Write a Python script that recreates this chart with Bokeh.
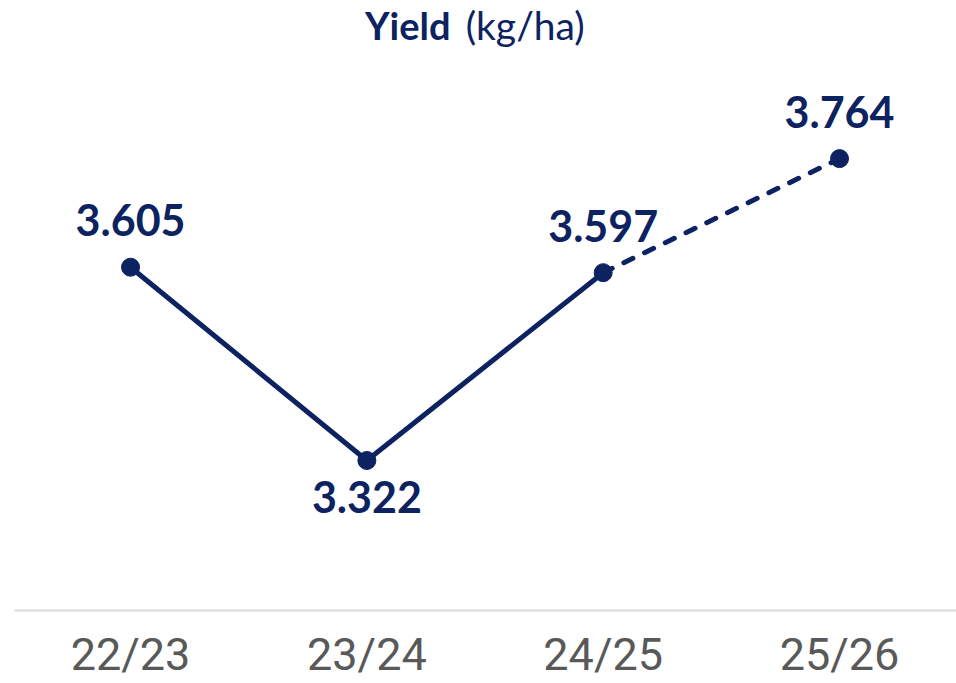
from bokeh.plotting import figure
from bokeh.models import FixedTicker, Label, Range1d
from bokeh.embed import file_html
from bokeh.resources import INLINE

seasons = ["22/23", "23/24", "24/25", "25/26"]
yields = [3.605, 3.322, 3.597, 3.764]
label_pos = ["above", "below", "above", "above"]

NAVY = "#0c2261"
GRAY = "#595959"

xs = list(range(len(seasons)))
p = figure(width=956, height=683, output_backend="svg", toolbar_location=None,
           x_range=Range1d(-0.491, 3.495), y_range=Range1d(3.1024, 3.9955),
           min_border_left=14, min_border_right=0, min_border_top=0, min_border_bottom=73)
p.outline_line_color = None
p.grid.visible = False
p.yaxis.visible = False
p.background_fill_color = "white"

# solid actual line, dashed forecast line
p.line(xs[:3], yields[:3], line_color=NAVY, line_width=5, line_cap="round", line_join="round")
p.line(xs[2:], yields[2:], line_color=NAVY, line_width=5, line_dash="10 13", line_cap="round")
p.scatter(xs, yields, size=18, fill_color=NAVY, line_color=NAVY)

for x, v, pos in zip(xs, yields, label_pos):
    if pos == "above":
        lab = Label(x=x, y=v, text=f"{v:.3f}", text_align="center", text_baseline="bottom",
                    y_offset=31, text_font="Lato", text_font_style="bold",
                    text_font_size="43px", text_color=NAVY)
    else:
        lab = Label(x=x, y=v, text=f"{v:.3f}", text_align="center", text_baseline="top",
                    y_offset=-20, text_font="Lato", text_font_style="bold",
                    text_font_size="43px", text_color=NAVY)
    p.add_layout(lab)

# title in two parts
p.add_layout(Label(x=1.354, y=3.9589, text="Yield", text_align="right", text_baseline="middle",
                   text_font="Lato", text_font_style="bold", text_font_size="38px",
                   text_color=NAVY))
p.add_layout(Label(x=1.418, y=3.9589, text="(kg/ha)", text_align="left", text_baseline="middle",
                   text_font="Lato", text_font_style="normal", text_font_size="39px",
                   text_color=NAVY))

ax = p.xaxis[0]
ax.ticker = FixedTicker(ticks=xs)
ax.major_label_overrides = {i: s for i, s in enumerate(seasons)}
ax.axis_line_color = "#d9d9d9"
ax.axis_line_width = 2
ax.major_tick_line_color = None
ax.minor_tick_line_color = None
ax.major_label_text_font = "Roboto"
ax.major_label_text_font_size = "45px"
ax.major_label_text_color = GRAY
ax.major_label_standoff = 11

open("out.html", "w").write(file_html(p, INLINE))
